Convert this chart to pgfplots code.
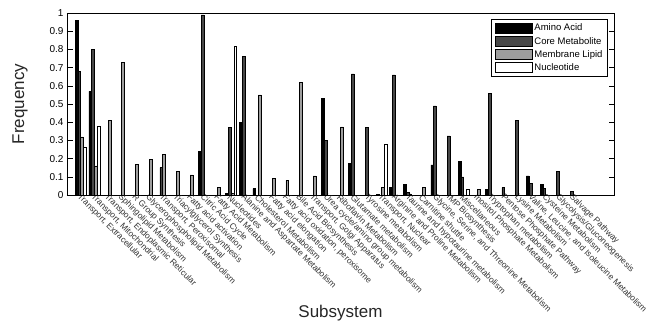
\documentclass[border=0pt]{standalone}
\usepackage{fontspec}
\setmainfont{Liberation Sans}
\usepackage{pgfplots}
\usepackage{pgfplotstable}
\pgfplotsset{compat=1.18}
\definecolor{cmgray}{gray}{0.28}
\definecolor{mlgray}{gray}{0.62}
\pgfplotsset{leg/.style={legend image code/.code={\draw[##1] (0pt,-5pt) rectangle (37pt,5pt);}}}

\pgfplotstableread{
x aa cm ml nu
1 0.96 0.68 0.32 0.26
2 0.57 0.80 0.16 0.38
3 0 0 0.41 0
4 0 0 0.73 0
5 0 0 0.17 0
6 0 0 0.195 0
7 0 0.15 0.225 0
8 0 0 0.13 0
9 0 0 0.11 0
10 0.24 0.99 0 0
11 0 0 0.04 0
12 0.01 0.37 0.01 0.82
13 0.40 0.76 0 0
14 0.035 0 0.55 0
15 0 0 0.09 0
16 0 0 0.08 0
17 0 0 0.62 0
18 0 0 0.105 0
19 0.53 0.30 0 0
20 0 0 0.375 0
21 0.175 0.665 0 0
22 0 0.37 0 0
23 0.005 0 0.04 0.28
24 0.04 0.66 0 0
25 0.06 0.015 0.005 0
26 0 0 0.04 0
27 0.165 0.49 0 0
28 0 0.325 0 0
29 0.185 0.10 0 0.03
30 0 0 0.03 0
31 0.03 0.56 0 0
32 0 0.04 0 0
33 0 0.41 0 0
34 0.105 0.065 0 0
35 0.06 0.035 0 0
36 0 0.13 0 0
37 0 0.02 0 0
}\data

\begin{document}
\begin{tikzpicture}
\useasboundingbox (-67pt,-130pt) rectangle (591pt,195pt);
\begin{axis}[
  at={(0pt,0pt)}, anchor=south west,
  scale only axis, width=547pt, height=182pt,
  xmin=0, xmax=40, ymin=0, ymax=1,
  xtick={1,2,...,37},
  xticklabels={{Transport, Extracellular},{Transport, Mitochondrial},{Transport, Endoplasmic Reticular},{Sphingolipid Metabolism},{R Group Synthesis},{Glycerophospholipid Metabolism},{Transport, Peroxisomal},{Triacylglycerol Synthesis},{Fatty acid activation},{Citric Acid Cycle},{Fatty Acid Metabolism},{Nucleotides},{Alanine and Aspartate Metabolism},{Cholesterol Metabolism},{Fatty acid elongation},{Fatty acid oxidation, peroxisome},{Bile Acid Biosynthesis},{Transport, Golgi Apparatus},{Urea cycle/amino group metabolism},{Riboflavin Metabolism},{Glutamate metabolism},{Tyrosine metabolism},{Transport, Nuclear},{Arginine and Proline Metabolism},{Taurine and hypotaurine metabolism},{Carnitine shuttle},{Glycine, Serine, and Threonine Metabolism},{IMP Biosynthesis},{Miscellaneous},{Inositol Phosphate Metabolism},{Tryptophan metabolism},{Pentose Phosphate Pathway},{Lysine Metabolism},{Valine, Leucine, and Isoleucine Metabolism},{Cysteine Metabolism},{Glycolysis/Gluconeogenesis},{Salvage Pathway}},
  xticklabel style={rotate=-45, anchor=west, font=\fontsize{8.5}{9}\selectfont, inner sep=0pt, xshift=-1pt, yshift=-2pt, text=black!80},
  ytick={0,0.1,0.2,0.3,0.4,0.5,0.6,0.7,0.8,0.9,1},
  yticklabels={0,0.1,0.2,0.3,0.4,0.5,0.6,0.7,0.8,0.9,1},
  yticklabel style={font=\fontsize{10}{12}\selectfont},
  /pgf/number format/assume math mode=true,
  tick align=inside, major tick length=5.5pt,
  x tick style={draw=none},
  y tick style={black, line width=0.6pt},
  ytick pos=both,
  axis line style={line width=0.9pt},
  xlabel={Subsystem},
  xlabel style={at={(axis description cs:0.5,-0.648)}, anchor=center, font=\fontsize{17}{20}\selectfont, text=black!85},
  ylabel={Frequency},
  ylabel style={at={(axis description cs:-0.086,0.5)}, anchor=center, font=\fontsize{17}{20}\selectfont, text=black!85},
  legend style={at={(axis description cs:0.989,0.967)}, anchor=north east, draw=black, line width=0.9pt, font=\fontsize{9.5}{11}\selectfont, inner xsep=3pt, inner ysep=2.5pt, row sep=0.8pt},
  legend cell align=left,
]
\addplot[ybar, bar width=0.2, bar shift=-0.3, fill=black, draw=black, line width=0.5pt, leg] table[x=x,y=aa]{\data};
\addlegendentry{Amino Acid}
\addplot[ybar, bar width=0.2, bar shift=-0.1, fill=cmgray, draw=black, line width=0.5pt, leg] table[x=x,y=cm]{\data};
\addlegendentry{Core Metabolite}
\addplot[ybar, bar width=0.2, bar shift=0.1, fill=mlgray, draw=black, line width=0.5pt, leg] table[x=x,y=ml]{\data};
\addlegendentry{Membrane Lipid}
\addplot[ybar, bar width=0.2, bar shift=0.3, fill=white, draw=black, line width=0.5pt, leg] table[x=x,y=nu]{\data};
\addlegendentry{Nucleotide}
\end{axis}
\end{tikzpicture}
\end{document}
